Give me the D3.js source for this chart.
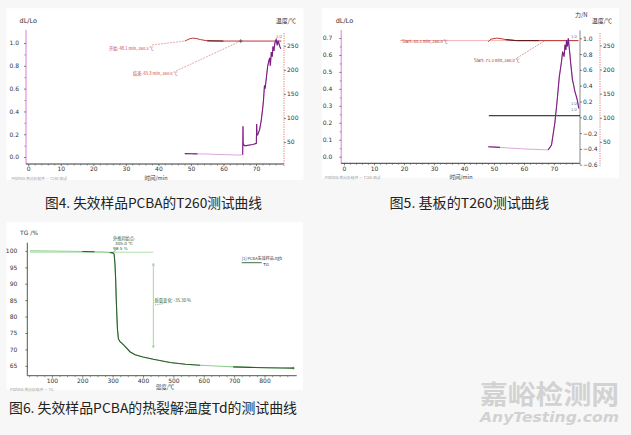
<!DOCTYPE html>
<html><head><meta charset="utf-8">
<script src="https://cdn.jsdelivr.net/npm/d3@7"></script>
<style>body{margin:0;background:#f7f7f7}svg{display:block}</style>
</head><body>
<svg id="c" width="631" height="435"></svg>
<script>
// ---------- DATA ----------
// Fig 4 (failed PCBA, T260)
const fig4DLTime = [48.1,50,52,55,58,61,63,65,65.9,66.0,66.05,66.4,67,68,69,70.1,70.2,70.3,70.6,71.1,71.6,72.1,72.3,72.6,72.8,73.2,73.6,74.0,74.2,74.4,74.7,75.0,75.2,75.5,75.8,76.2,76.5,76.8,77.0,77.3,77.6];
const fig4DL     = [0.030,0.029,0.028,0.026,0.023,0.021,0.019,0.017,0.020,0.27,0.12,0.10,0.10,0.105,0.11,0.12,0.29,0.19,0.20,0.24,0.32,0.44,0.50,0.63,0.60,0.70,0.80,0.85,0.87,0.80,0.92,0.88,0.97,0.93,1.00,1.03,0.98,1.02,1.00,0.97,0.95];
const fig4TempTime = [48.1,48.6,49.5,50.5,51.5,53,55,60,65,70,75,77.8];
const fig4Temp     = [260,261.5,264.5,266,265.5,263,260.5,260,260,260,260,260];
const fig4XTicks = [0,10,20,30,40,50,60,70];
const fig4YTicks = [0,0.2,0.4,0.6,0.8,1.0];
const fig4TTicks = [50,100,150,200,250];

// Fig 5 (substrate, T260)
const fig5DLTime = [48.1,52,56,60,64,67,68.1,69.2,70.3,71.1,71.8,72.2,72.6,72.9,73.4,73.7,74.0,74.2,74.5,74.8,75.0,75.3,75.6,76.2,76.6,77.0,77.4,77.8,78.3];
const fig5DL     = [0.059,0.055,0.050,0.046,0.043,0.041,0.040,0.069,0.197,0.334,0.472,0.52,0.570,0.62,0.590,0.66,0.63,0.688,0.65,0.698,0.66,0.610,0.55,0.452,0.42,0.383,0.36,0.334,0.285];
const fig5TempTime = [48.1,48.4,49,50.9,52,54,57.6,65,70,75,78.1];
const fig5Temp     = [258,259.5,263,265,264.5,262,260,260,260,260,260];
const fig5ForceTime = [48.3,78.7];
const fig5Force     = [0.02,0.02];
const fig5XTicks = [0,10,20,30,40,50,60,70];
const fig5YTicks = [0,0.1,0.2,0.3,0.4,0.5,0.6,0.7];
const fig5FTicks = [-0.6,-0.4,-0.2,0,0.2,0.4,0.6,0.8,1.0];
const fig5TTicks = [50,100,150,200,250];

// Fig 6 (TG of failed PCBA)
const tgTemp = [28,100,150,200,240,270,290,300,305,308,310,312,314,316,319,325,330,340,357,374,400,434,489,540,588,640,697,750,807,860,895];
const tgMass = [100.0,99.95,99.9,99.8,99.75,99.65,99.5,99.4,99.0,95.5,91,85,80,76,73.2,72.3,71.9,71.0,69.3,68.4,67.7,67.0,66.0,65.5,65.2,64.95,64.7,64.55,64.4,64.35,64.3];
const tgXTicks = [100,200,300,400,500,600,700,800];
const tgYTicks = [65,70,75,80,85,90,95,100];

// ---------- DRAW ----------
const svg = d3.select('#c');
const FONT = "'DejaVu Sans', 'Noto Sans CJK SC', sans-serif";
const CJK = "'Noto Sans CJK SC', sans-serif";
svg.append('rect').attr('width',631).attr('height',435).attr('fill','#f7f7f7');

// panels
const panels = [[6.5,8.3,297,171.5],[321.7,8.3,297.3,169.7],[6.5,222.3,296.5,167.7]];
svg.selectAll('rect.panel').data(panels).join('rect').attr('class','panel')
  .attr('x',d=>d[0]).attr('y',d=>d[1]).attr('width',d=>d[2]).attr('height',d=>d[3]).attr('fill','#fff');

function txt(g,x,y,s,opt={}){
  return g.append('text').attr('x',x).attr('y',y).text(s)
    .attr('font-size',opt.size||6).attr('font-family',opt.family||FONT)
    .attr('fill',opt.fill||'#333').attr('text-anchor',opt.anchor||'start')
    .attr('font-style',opt.style||null).attr('font-weight',opt.weight||null);
}
function styleAxis(g,size){
  g.select('.domain').remove();
  g.attr('font-size',size||6).attr('font-family',FONT);
  g.selectAll('text').attr('fill','#333');
  g.selectAll('line').attr('stroke','#333').attr('stroke-width',0.6);
  return g;
}
function minorAxis(g,axis,vals){
  g.call(axis.tickValues(vals).tickFormat('').tickSize(1.5));
  g.select('.domain').remove();
  g.selectAll('line').attr('stroke','#555').attr('stroke-width',0.6);
}
const pair = (a,b)=>d3.zip(a,b);

// ===== Figure 4 =====
(function(){
  const g = svg.append('g');
  const x = d3.scaleLinear().domain([-0.7,78.6]).range([26,284]);
  const y = d3.scaleLinear().domain([-0.061,1.114]).range([164,30]);
  const yT = d3.scaleLinear().domain([0,283]).range([166,30]);
  g.append('line').attr('x1',x.range()[0]).attr('x2',x.range()[0]).attr('y1',y.range()[1]).attr('y2',y.range()[0]).attr('stroke','#e6a8ea').attr('stroke-width',1.5);
  g.append('line').attr('x1',x.range()[0]).attr('x2',x.range()[1]).attr('y1',y.range()[0]).attr('y2',y.range()[0]).attr('stroke','#222').attr('stroke-width',0.9);
  g.append('line').attr('x1',x.range()[1]).attr('x2',x.range()[1]).attr('y1',yT.range()[1]+3).attr('y2',yT.range()[0]).attr('stroke','#e86a6a').attr('stroke-width',0.9).attr('stroke-dasharray','1.2,1.2');
  styleAxis(g.append('g').attr('transform','translate(26,0)').call(d3.axisLeft(y).tickValues(fig4YTicks).tickFormat(d3.format('.1f')).tickSize(2).tickPadding(5)));
  minorAxis(g.append('g').attr('transform','translate(26,0)'),d3.axisLeft(y),d3.range(0.1,1.1,0.2));
  styleAxis(g.append('g').attr('transform','translate(0,164)').call(d3.axisBottom(x).tickValues(fig4XTicks).tickSize(2).tickPadding(1)));
  minorAxis(g.append('g').attr('transform','translate(0,164)'),d3.axisBottom(x),d3.range(2,78,2).filter(v=>v%10));
  styleAxis(g.append('g').attr('transform','translate(284,0)').call(d3.axisRight(yT).tickValues(fig4TTicks).tickSize(2).tickPadding(1)));
  txt(g,19.5,23,'dL/Lo',{size:6.5});
  txt(g,296,23,'温度/℃',{size:6,anchor:'end',family:CJK});
  txt(g,156,179.5,'时间/min',{size:5.5,anchor:'middle',family:CJK});
  txt(g,11.5,180,'Proteus 热分析软件 — T260 测试',{size:3.8,fill:'#999',family:CJK});
  g.append('path').datum(pair(fig4TempTime,fig4Temp)).attr('d',d3.line().x(d=>x(d[0])).y(d=>yT(d[1])))
    .attr('fill','none').attr('stroke','#c03434').attr('stroke-width',1);
  g.append('path').datum(pair(fig4TempTime,fig4Temp).filter(d=>d[0]>=55&&d[0]<=60)).attr('d',d3.line().x(d=>x(d[0])).y(d=>yT(d[1])))
    .attr('fill','none').attr('stroke','#5a1818').attr('stroke-width',1);
  const dl = pair(fig4DLTime,fig4DL);
  const ln = d3.line().x(d=>x(d[0])).y(d=>y(d[1]));
  g.append('path').datum(dl).attr('d',ln).attr('fill','none').attr('stroke','#dba8de').attr('stroke-width',1);
  g.append('path').datum(dl).attr('d',ln.defined(d=>d[0]<=52||d[0]>=65.9)).attr('fill','none').attr('stroke','#7d1d82').attr('stroke-width',1.1);
  const st = [fig4TempTime[0],fig4Temp[0]], en=[65.3,260];
  g.append('line').attr('x1',152).attr('y1',45).attr('x2',x(st[0])).attr('y2',yT(st[1])).attr('stroke','#d07070').attr('stroke-width',0.6).attr('stroke-dasharray','2,1');
  g.append('line').attr('x1',176).attr('y1',71).attr('x2',x(en[0])).attr('y2',yT(en[1])).attr('stroke','#d07070').attr('stroke-width',0.6).attr('stroke-dasharray','2,1');
  g.append('path').attr('d',`M${x(en[0])-2},${yT(en[1])}h4M${x(en[0])},${yT(en[1])-2}v4`).attr('stroke','#333').attr('stroke-width',0.6);
  txt(g,109,50.3,'开始: 48.1 min, 260.3 ℃',{size:4.2,fill:'#c83c3c',family:CJK});
  txt(g,133,75,'结束: 65.3 min, 260.0 ℃',{size:4.2,fill:'#c83c3c',family:CJK});
  txt(g,276,38,'1/2',{size:3.8,fill:'#777'});
})();

// ===== Figure 5 =====
(function(){
  const g = svg.append('g');
  const x = d3.scaleLinear().domain([-0.9,78.7]).range([341.3,580]);
  const y = d3.scaleLinear().domain([-0.043,0.747]).range([164,30]);
  const yF = d3.scaleLinear().domain([-0.6,1.1]).range([164.7,30.4]);
  const yT = d3.scaleLinear().domain([0,282]).range([166,30]);
  g.append('line').attr('x1',x.range()[0]).attr('x2',x.range()[0]).attr('y1',y.range()[1]).attr('y2',y.range()[0]).attr('stroke','#e6a8ea').attr('stroke-width',1.5);
  g.append('line').attr('x1',x.range()[0]).attr('x2',x.range()[1]).attr('y1',163.3).attr('y2',163.3).attr('stroke','#222').attr('stroke-width',0.9);
  g.append('line').attr('x1',x.range()[1]).attr('x2',x.range()[1]).attr('y1',yF.range()[1]).attr('y2',yF.range()[0]).attr('stroke','#888').attr('stroke-width',1);
  g.append('line').attr('x1',600).attr('x2',600).attr('y1',yT.range()[1]+3).attr('y2',yT.range()[0]).attr('stroke','#e86a6a').attr('stroke-width',0.9).attr('stroke-dasharray','1.2,1.2');
  styleAxis(g.append('g').attr('transform',`translate(${x.range()[0]},0)`).call(d3.axisLeft(y).tickValues(fig5YTicks).tickFormat(d3.format('.1f')).tickSize(2).tickPadding(7)));
  minorAxis(g.append('g').attr('transform',`translate(${x.range()[0]},0)`),d3.axisLeft(y),d3.range(0.05,0.75,0.1));
  styleAxis(g.append('g').attr('transform','translate(0,163.3)').call(d3.axisBottom(x).tickValues(fig5XTicks).tickSize(2).tickPadding(1.5)));
  minorAxis(g.append('g').attr('transform','translate(0,163.3)'),d3.axisBottom(x),d3.range(2,78,2).filter(v=>v%10));
  styleAxis(g.append('g').attr('transform',`translate(${x.range()[1]},0)`).call(d3.axisRight(yF).tickValues(fig5FTicks).tickFormat(d3.format('.1f')).tickSize(2).tickPadding(1)));
  styleAxis(g.append('g').attr('transform','translate(600,0)').call(d3.axisRight(yT).tickValues(fig5TTicks).tickSize(2).tickPadding(1)));
  txt(g,335.7,23,'dL/Lo',{size:6.5});
  txt(g,575,17,'力/N',{size:6,family:CJK});
  txt(g,612,23,'温度/℃',{size:6,anchor:'end',family:CJK});
  txt(g,461,178.5,'时间/min',{size:5.5,anchor:'middle',family:CJK});
  txt(g,325,179,'Proteus 热分析软件 — T260 测试',{size:3.8,fill:'#999',family:CJK});
  g.append('line').attr('x1',400).attr('x2',x.range()[1]).attr('y1',yT(260)).attr('y2',yT(260)).attr('stroke','#f4b4b4').attr('stroke-width',1);
  g.append('path').datum(pair(fig5ForceTime,fig5Force)).attr('d',d3.line().x(d=>x(d[0])).y(d=>yF(d[1]))).attr('fill','none').attr('stroke','#111').attr('stroke-width',1);
  g.append('path').datum(pair(fig5TempTime,fig5Temp)).attr('d',d3.line().x(d=>x(d[0])).y(d=>yT(d[1]))).attr('fill','none').attr('stroke','#c03434').attr('stroke-width',1);
  g.append('path').datum(pair(fig5TempTime,fig5Temp).filter(d=>d[0]>=54&&d[0]<=65)).attr('d',d3.line().x(d=>x(d[0])).y(d=>yT(d[1]))).attr('fill','none').attr('stroke','#5a1818').attr('stroke-width',1);
  const dl = pair(fig5DLTime,fig5DL);
  const ln = d3.line().x(d=>x(d[0])).y(d=>y(d[1]));
  g.append('path').datum(dl).attr('d',ln).attr('fill','none').attr('stroke','#dba8de').attr('stroke-width',1);
  g.append('path').datum(dl).attr('d',ln.defined(d=>d[0]<=52||d[0]>=68.1)).attr('fill','none').attr('stroke','#7d1d82').attr('stroke-width',1.1);
  txt(g,402,43.4,'Start: 48.1 min, 260.0 ℃',{size:4.2,fill:'#a03030',family:CJK});
  txt(g,474,61.5,'Start: 71.3 min, 260.0 ℃',{size:4.2,fill:'#a03030',family:CJK});
  g.append('line').attr('x1',517).attr('y1',58).attr('x2',x(67)).attr('y2',yT(260)).attr('stroke','#c06060').attr('stroke-width',0.6).attr('stroke-dasharray','2,1');
  txt(g,571,38,'1/2',{size:3.8,fill:'#777'});
  txt(g,571,105,'1/2',{size:3.8,fill:'#777'});
  txt(g,571,110.5,'1/2',{size:3.8,fill:'#777'});
})();

// ===== Figure 6 =====
(function(){
  const g = svg.append('g');
  const x = d3.scaleLinear().domain([19,906]).range([27.3,296.7]);
  const y = d3.scaleLinear().domain([62,102.5]).range([375.7,242.7]);
  g.append('line').attr('x1',x.range()[0]).attr('x2',x.range()[0]).attr('y1',y.range()[1]).attr('y2',y.range()[0]).attr('stroke','#2f4f2f').attr('stroke-width',0.9);
  g.append('line').attr('x1',x.range()[0]).attr('x2',x.range()[1]).attr('y1',y.range()[0]).attr('y2',y.range()[0]).attr('stroke','#2f4f2f').attr('stroke-width',0.9);
  styleAxis(g.append('g').attr('transform',`translate(${x.range()[0]},0)`).call(d3.axisLeft(y).tickValues(tgYTicks).tickSize(2).tickPadding(8)));
  styleAxis(g.append('g').attr('transform',`translate(0,${y.range()[0]})`).call(d3.axisBottom(x).tickValues(tgXTicks).tickSize(2).tickPadding(1.5)));
  minorAxis(g.append('g').attr('transform',`translate(0,${y.range()[0]})`),d3.axisBottom(x),d3.range(25,900,25).filter(v=>v%100));
  txt(g,20,235,'TG /%',{size:6});
  txt(g,165,389,'温度/℃',{size:5.5,anchor:'middle',family:CJK});
  txt(g,10,390.5,'Proteus 热分析软件 — TG',{size:3.8,fill:'#999',family:CJK});
  g.append('line').attr('x1',x(tgTemp[0])).attr('x2',x(434)).attr('y1',y(99.6)).attr('y2',y(99.6)).attr('stroke','#9ad89a').attr('stroke-width',0.8);
  const ax = x(434);
  g.append('line').attr('x1',ax).attr('x2',ax).attr('y1',y(96.2)).attr('y2',y(70.5)).attr('stroke','#8ccf8c').attr('stroke-width',0.8);
  g.append('path').attr('d',`M${ax-1.2},${y(96.2)+2.5}L${ax},${y(96.2)}L${ax+1.2},${y(96.2)+2.5}M${ax-1.2},${y(70.5)-2.5}L${ax},${y(70.5)}L${ax+1.2},${y(70.5)-2.5}`).attr('fill','none').attr('stroke','#8ccf8c').attr('stroke-width',0.7);
  const data = pair(tgTemp,tgMass);
  const ln = d3.line().x(d=>x(d[0])).y(d=>y(d[1]));
  g.append('path').datum(data).attr('d',ln).attr('fill','none').attr('stroke','#8fd08f').attr('stroke-width',1.1);
  const dark = d=> (d[0]>=200&&d[0]<=240)||(d[0]>=290&&d[0]<=434)||(d[0]>=489&&d[0]<=588)||(d[0]>=697&&d[0]<=807)||(d[0]>=860);
  g.append('path').datum(data).attr('d',ln.defined(dark)).attr('fill','none').attr('stroke','#2e5e2e').attr('stroke-width',1.1);
  const last = data[data.length-1];
  g.append('path').attr('d',`M${x(last[0])-1.5},${y(last[1])}h3M${x(last[0])},${y(last[1])-1.5}v3`).attr('stroke','#2e5e2e').attr('stroke-width',0.6);
  g.append('path').attr('d',`M${x(300)},${y(99.4)}L${x(316)},${y(100.8)}`).attr('stroke','#2e5e2e').attr('stroke-width',0.5);
  txt(g,113,239.5,'外推起始点:',{size:4.2,fill:'#2e5e2e',family:CJK});
  txt(g,115,244.5,'305.0 ℃',{size:4.2,fill:'#2e5e2e'});
  txt(g,113,249.5,'99.5 %',{size:4.2,fill:'#2e5e2e'});
  txt(g,154.5,301.5,'质量变化: -35.30 %',{size:4.3,fill:'#2e5e2e',family:CJK});
  g.append('line').attr('x1',155).attr('x2',164).attr('y1',305).attr('y2',303.5).attr('stroke','#2e5e2e').attr('stroke-width',0.5).attr('stroke-dasharray','1,0.8');
  txt(g,241.7,260,'[1] PCBA失效样品.ngb',{size:4,fill:'#333',family:CJK});
  g.append('line').attr('x1',241.7).attr('x2',261.7).attr('y1',262.7).attr('y2',262.7).attr('stroke','#2e5e2e').attr('stroke-width',0.9);
  txt(g,263.3,265.5,'TG',{size:4,fill:'#333'});
})();

// captions
txt(svg,45,208,'图4. 失效样品PCBA的T260测试曲线',{size:13.5,fill:'#222',family:CJK}).attr('textLength',217).attr('lengthAdjust','spacingAndGlyphs');
txt(svg,389.5,208,'图5. 基板的T260测试曲线',{size:13.5,fill:'#222',family:CJK}).attr('textLength',159.5).attr('lengthAdjust','spacingAndGlyphs');
txt(svg,9,413,'图6. 失效样品PCBA的热裂解温度Td的测试曲线',{size:13.5,fill:'#222',family:CJK}).attr('textLength',288).attr('lengthAdjust','spacingAndGlyphs');
// watermark
txt(svg,480,403.5,'嘉峪检测网',{size:26,fill:'#d2d2d2',family:CJK,weight:'bold'}).attr('textLength',139).attr('lengthAdjust','spacingAndGlyphs');
txt(svg,480,422,'AnyTesting.com',{size:13.5,fill:'#d2d2d2',family:"'DejaVu Sans', sans-serif",style:'italic',weight:'bold'}).attr('textLength',139).attr('lengthAdjust','spacingAndGlyphs');
</script>
</body></html>
